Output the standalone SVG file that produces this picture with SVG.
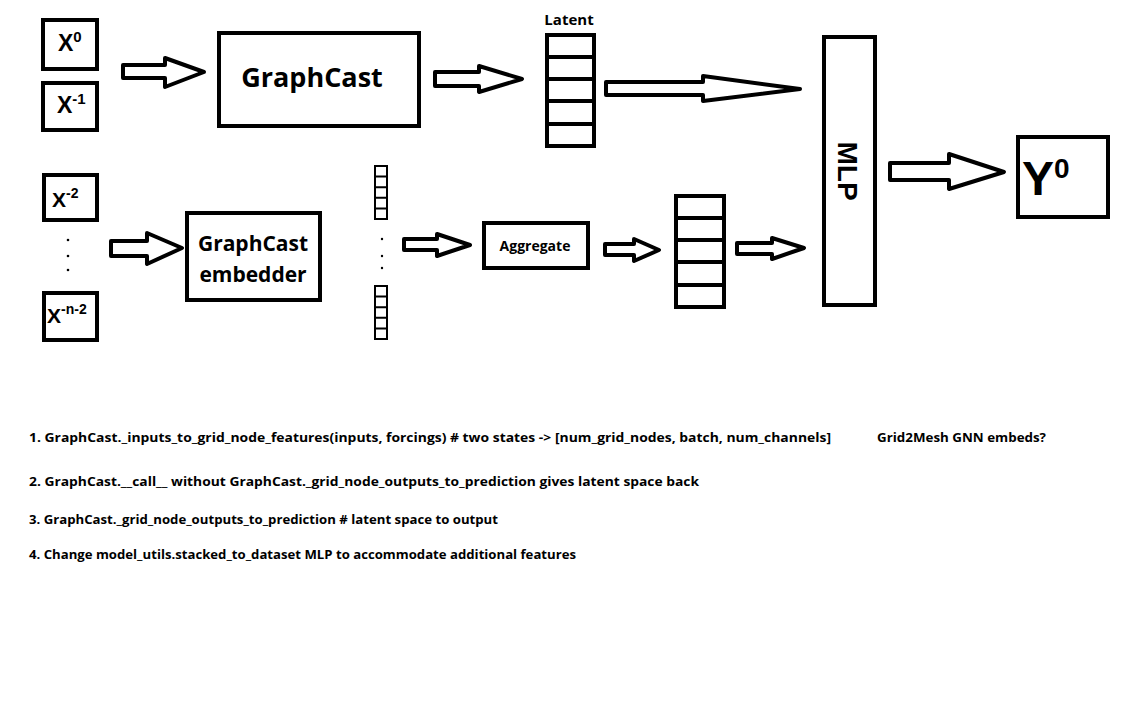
<svg xmlns="http://www.w3.org/2000/svg" width="1147" height="722" viewBox="0 0 1147 722">
<style>
.box{fill:#fff;stroke:#000;stroke-width:4}
.cell{fill:none;stroke:#000;stroke-width:4}
.thin{fill:#fff;stroke:#000;stroke-width:2}
.arr{fill:#fff;stroke:#000;stroke-width:4;stroke-linejoin:round}
text{font-family:"Open Sans","Noto Sans","DejaVu Sans",sans-serif;font-weight:bold;fill:#000}
.sym{font-family:"Liberation Sans",Arial,sans-serif}
.note{font-size:13px}
</style>
<rect width="1147" height="722" fill="#fff"/>
<g id="connectors">
<polygon class="arr" points="123,65 165,65 165,58 204,72 165,87 165,78 123,78"/>
<polygon class="arr" points="435,72 479,72 479,66 522,79 479,92 479,86 435,86"/>
<polygon class="arr" points="606,82 703,82 703,76 800,89 703,101 703,95 606,95"/>
<polygon class="arr" points="890,163 949,163 949,154 1004,172 949,189 949,180 890,180"/>
<polygon class="arr" points="111,241 147,241 147,233 182,248 147,264 147,256 111,256"/>
<polygon class="arr" points="404,239 437,239 437,234 470,245 437,256 437,250 404,250"/>
<polygon class="arr" points="605,244 634,244 634,239 659,250 634,261 634,255 605,255"/>
<polygon class="arr" points="737,243 772,243 772,238 804,248 772,259 772,254 737,254"/>
</g>
<g id="x0"><rect class="box" x="43" y="20" width="54" height="49"/><text class="sym" x="58" y="51" font-size="23">X<tspan font-size="15" dy="-9">0</tspan></text></g>
<g id="x-1"><rect class="box" x="43" y="83" width="54" height="47"/><text class="sym" x="57" y="113" font-size="23">X<tspan font-size="15" dy="-9">-1</tspan></text></g>
<g id="graphcast"><rect class="box" x="219" y="33" width="200" height="93"/><text x="312" y="87" font-size="27" text-anchor="middle">GraphCast</text></g>
<g id="latent">
<text x="569" y="25" font-size="15" text-anchor="middle">Latent</text>
<rect class="box" x="547" y="35" width="47" height="111"/>
<path class="cell" d="M547 57H594M547 79H594M547 101H594M547 124H594"/>
</g>
<g id="mlp"><rect class="box" x="824" y="37" width="51" height="268"/><text class="sym" transform="translate(838,171) rotate(90)" font-size="28" text-anchor="middle">MLP</text></g>
<g id="y0"><rect class="box" x="1018" y="137" width="90" height="80"/><text class="sym" x="1022" y="195" font-size="48">Y<tspan font-size="28" dy="-17">0</tspan></text></g>
<g id="x-2"><rect class="box" x="44" y="175" width="53" height="45"/><text class="sym" x="52" y="207" font-size="21">X<tspan font-size="14" dy="-9">-2</tspan></text></g>
<g id="dots-x"><circle cx="68" cy="240" r="1.3"/><circle cx="68" cy="256" r="1.3"/><circle cx="68" cy="270" r="1.3"/></g>
<g id="x-n-2"><rect class="box" x="44" y="293" width="53" height="47"/><text class="sym" x="47" y="323" font-size="21">X<tspan font-size="14" dy="-9">-n-2</tspan></text></g>
<g id="embedder"><rect class="box" x="187" y="213" width="133" height="87"/><text x="253" y="251" font-size="21" text-anchor="middle">GraphCast</text><text x="253" y="282" font-size="21" text-anchor="middle">embedder</text></g>
<g id="stack-top"><rect class="thin" x="375" y="166" width="12" height="53"/><path class="thin" d="M375 176.6H387M375 187.2H387M375 197.8H387M375 208.4H387"/></g>
<g id="dots-stack"><circle cx="382" cy="239" r="1.2"/><circle cx="382" cy="256" r="1.2"/><circle cx="382" cy="268" r="1.2"/></g>
<g id="stack-bottom"><rect class="thin" x="375" y="286" width="12" height="53"/><path class="thin" d="M375 296.6H387M375 307.2H387M375 317.8H387M375 328.4H387"/></g>
<g id="aggregate"><rect class="box" x="484" y="223" width="104" height="45"/><text x="535" y="251" font-size="14" text-anchor="middle">Aggregate</text></g>
<g id="agg-stack">
<rect class="box" x="676" y="196" width="48" height="111"/>
<path class="cell" d="M676 218H724M676 240H724M676 262H724M676 285H724"/>
</g>
<g id="notes">
<text class="note" x="29" y="442" textLength="802" lengthAdjust="spacingAndGlyphs">1. GraphCast._inputs_to_grid_node_features(inputs, forcings) # two states -&gt; [num_grid_nodes, batch, num_channels]</text>
<text class="note" x="877" y="442" textLength="169" lengthAdjust="spacingAndGlyphs">Grid2Mesh GNN embeds?</text>
<text class="note" x="29" y="486" textLength="670" lengthAdjust="spacingAndGlyphs">2. GraphCast.__call__ without GraphCast._grid_node_outputs_to_prediction gives latent space back</text>
<text class="note" x="29" y="524" textLength="469" lengthAdjust="spacingAndGlyphs">3. GraphCast._grid_node_outputs_to_prediction # latent space to output</text>
<text class="note" x="29" y="559" textLength="547" lengthAdjust="spacingAndGlyphs">4. Change model_utils.stacked_to_dataset MLP to accommodate additional features</text>
</g>
</svg>
